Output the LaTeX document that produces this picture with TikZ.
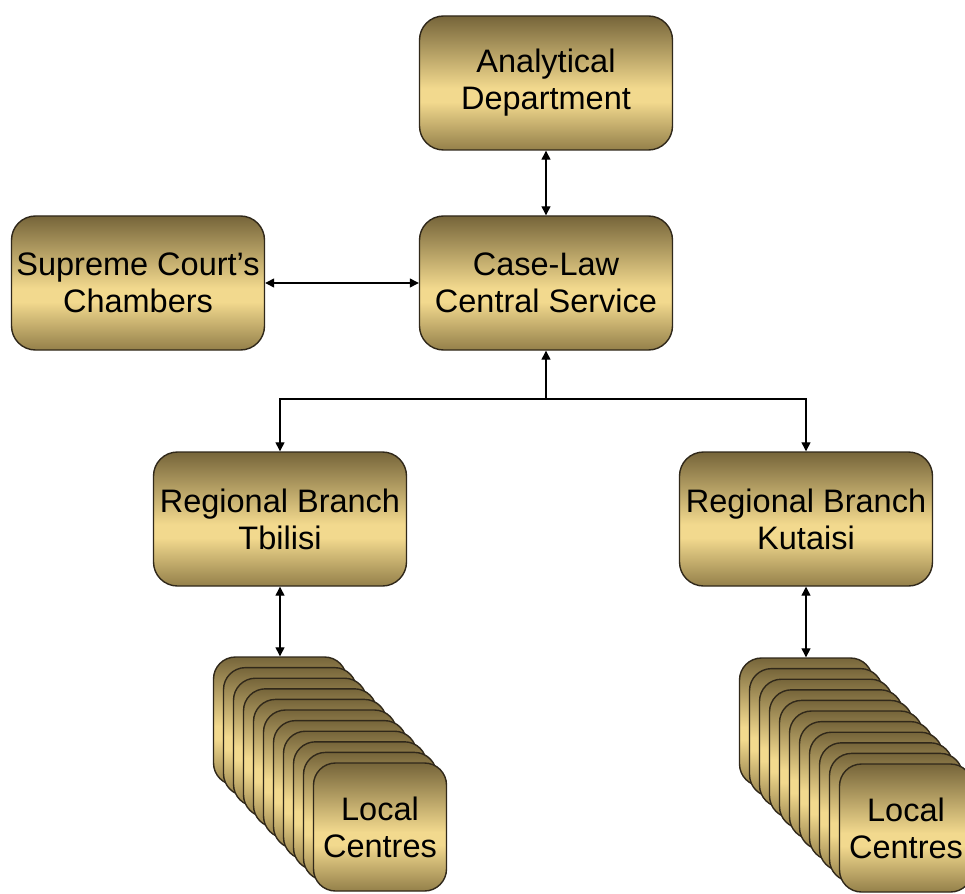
\documentclass[tikz,border=0pt]{standalone}
\usepackage{fontspec}
\setmainfont{Liberation Sans}
\usetikzlibrary{arrows.meta}

\definecolor{goldtop}{HTML}{76653A}
\definecolor{goldlight}{HTML}{F2D98E}
\definecolor{goldbot}{HTML}{94804A}
\definecolor{boxline}{HTML}{30281A}
\pgfdeclareverticalshading{goldbox}{100bp}{color(0bp)=(goldbot); color(25bp)=(goldbot); color(43bp)=(goldlight); color(48bp)=(goldlight); color(75bp)=(goldtop); color(100bp)=(goldtop)}

\tikzset{
    box/.style={draw=boxline, line width=1.4pt, rounded corners=24pt, shading=goldbox,
        minimum width=253pt, minimum height=134pt, inner sep=0pt, align=center,
        font=\fontsize{32.5}{37}\selectfont},
    localbox/.style={box, minimum width=133pt, minimum height=128pt, rounded corners=22pt},
    tip/.tip={Triangle[length=9pt, width=9pt]},
    link/.style={line width=1.3pt, tip-tip},
    oneway/.style={line width=1.3pt, -tip}
}

\begin{document}
\begin{tikzpicture}[x=1pt, y=-1pt]
    \clip (0,0) rectangle (965,893);

    \node[box] (ad) at (546,83) {Analytical\\Department};
    \node[box] (cl) at (546,283) {Case-Law\\Central Service};
    \node[box] (sc) at (138,283) {Supreme Court’s\\Chambers};
    \node[box] (tb) at (280,519) {Regional Branch\\Tbilisi};
    \node[box] (kt) at (806,519) {Regional Branch\\Kutaisi};

    % stacks of local centres, back to front
    \foreach \i in {0,...,9} {
        \node[localbox] (tl\i) at ({280+10*\i},{721+10.6*\i}) {};
        \node[localbox] (kl\i) at ({806+10*\i},{722+10.6*\i}) {};
    }
    \node[localbox] (tlf) at (380,827) {Local\\Centres};
    \node[localbox] (klf) at (906,828) {Local\\Centres};

    \coordinate (fork) at (546,399);

    \draw[link] (ad) -- (cl);
    \draw[link] (sc) -- (cl);
    \draw[oneway] (fork) -- (cl.south);
    \draw[oneway] (fork) -| (tb.north);
    \draw[oneway] (fork) -| (kt.north);
    \draw[link] (tb.south) -- (tl0.north);
    \draw[link] (kt.south) -- (kl0.north);
\end{tikzpicture}
\end{document}
